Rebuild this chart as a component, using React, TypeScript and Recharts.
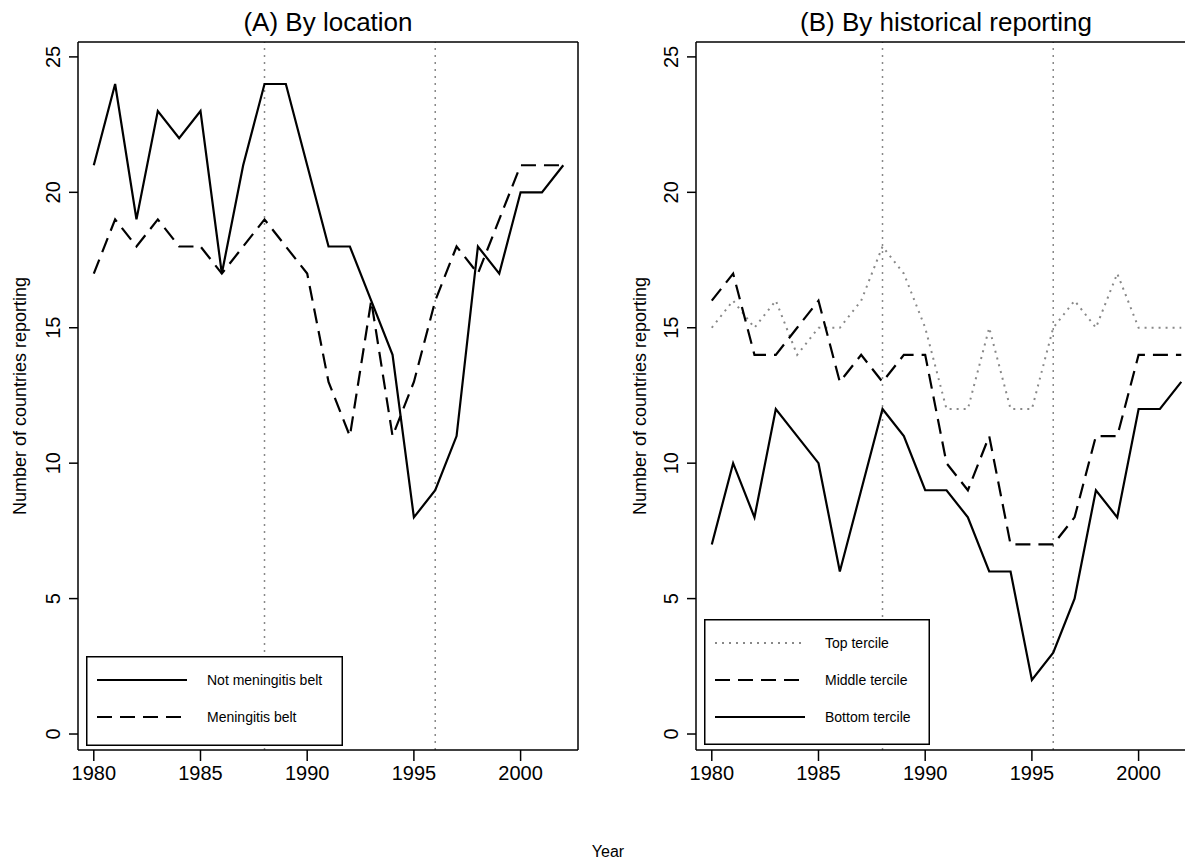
import React from 'react';
import { LineChart, Line, XAxis, YAxis, ReferenceLine, Legend } from 'recharts';

const years = [1980, 1981, 1982, 1983, 1984, 1985, 1986, 1987, 1988, 1989, 1990, 1991, 1992, 1993, 1994, 1995, 1996, 1997, 1998, 1999, 2000, 2001, 2002];
const notBelt = [21, 24, 19, 23, 22, 23, 17, 21, 24, 24, 21, 18, 18, 16, 14, 8, 9, 11, 18, 17, 20, 20, 21];
const belt = [17, 19, 18, 19, 18, 18, 17, 18, 19, 18, 17, 13, 11, 16, 11, 13, 16, 18, 17, 19, 21, 21, 21];
const topTercile = [15, 16, 15, 16, 14, 15, 15, 16, 18, 17, 15, 12, 12, 15, 12, 12, 15, 16, 15, 17, 15, 15, 15];
const middleTercile = [16, 17, 14, 14, 15, 16, 13, 14, 13, 14, 14, 10, 9, 11, 7, 7, 7, 8, 11, 11, 14, 14, 14];
const bottomTercile = [7, 10, 8, 12, 11, 10, 6, 9, 12, 11, 9, 9, 8, 6, 6, 2, 3, 5, 9, 8, 12, 12, 13];

const xTicks = [1980, 1985, 1990, 1995, 2000];
const yTicks = [0, 5, 10, 15, 20, 25];
const markerYears = [1988, 1996];

const FONT = '"Liberation Sans", Arial, Helvetica, sans-serif';
const X_DOMAIN: [number, number] = [1979.26, 2002.69];
const Y_DOMAIN: [number, number] = [-0.59, 25.55];

const DASH = '15 8';
const DOT = '2 5';

const dataA = years.map((y, i) => ({ year: y, notBelt: notBelt[i], belt: belt[i] }));
const dataB = years.map((y, i) => ({ year: y, top: topTercile[i], middle: middleTercile[i], bottom: bottomTercile[i] }));

type Item = { name: string; dash?: string; color: string; width: number };

const seriesA: (Item & { key: string })[] = [
  { key: 'notBelt', name: 'Not meningitis belt', color: '#000', width: 2.2 },
  { key: 'belt', name: 'Meningitis belt', color: '#000', width: 2.2, dash: DASH },
];
const seriesB: (Item & { key: string })[] = [
  { key: 'top', name: 'Top tercile', color: '#888', width: 2, dash: DOT },
  { key: 'middle', name: 'Middle tercile', color: '#000', width: 2.2, dash: DASH },
  { key: 'bottom', name: 'Bottom tercile', color: '#000', width: 2.2 },
];

const YTick = (props: any) => {
  const { x, y, payload } = props;
  return (
    <text x={x} y={y} transform={`rotate(-90 ${x} ${y})`} textAnchor="middle" fontSize={20} fill="#000" fontFamily={FONT}>
      {payload.value}
    </text>
  );
};

const makeLegend = (items: Item[], w: number, h: number, rowGap: number, firstRow: number) => () => (
  <svg width={w} height={h} style={{ display: 'block' }}>
    <rect x={0.75} y={0.75} width={w - 1.5} height={h - 1.5} fill="#fff" stroke="#000" strokeWidth={1.5} />
    {items.map((it, i) => {
      const cy = firstRow + i * rowGap;
      return (
        <g key={it.name}>
          <line x1={11} x2={101} y1={cy} y2={cy} stroke={it.color} strokeWidth={it.width} strokeDasharray={it.dash} />
          <text x={121} y={cy} dominantBaseline="central" fontSize={14} fontFamily={FONT} fill="#000">
            {it.name}
          </text>
        </g>
      );
    })}
  </svg>
);

const chartMargin = { top: 41, right: 21, left: 8, bottom: 53 };

function Panel({ data, series, legend, legendPos }: any) {
  return (
    <LineChart width={600} height={863} data={data} margin={chartMargin}>
      <XAxis
        dataKey="year"
        type="number"
        domain={X_DOMAIN}
        ticks={xTicks}
        allowDataOverflow
        height={60}
        axisLine={{ stroke: '#000', strokeWidth: 1.5 }}
        tickLine={{ stroke: '#000', strokeWidth: 1.5 }}
        tickSize={11}
        tickMargin={5}
        tick={{ fontSize: 20, fill: '#000', fontFamily: FONT }}
      />
      <XAxis
        xAxisId="top"
        orientation="top"
        dataKey="year"
        type="number"
        domain={X_DOMAIN}
        allowDataOverflow
        height={1}
        tick={false}
        tickLine={false}
        axisLine={{ stroke: '#000', strokeWidth: 1.5 }}
      />
      <YAxis
        type="number"
        domain={Y_DOMAIN}
        ticks={yTicks}
        allowDataOverflow
        width={70}
        axisLine={{ stroke: '#000', strokeWidth: 1.5 }}
        tickLine={{ stroke: '#000', strokeWidth: 1.5 }}
        tickSize={9}
        tickMargin={9}
        tick={<YTick />}
      />
      <YAxis
        yAxisId="right"
        orientation="right"
        type="number"
        domain={Y_DOMAIN}
        allowDataOverflow
        width={1}
        tick={false}
        tickLine={false}
        axisLine={{ stroke: '#000', strokeWidth: 1.5 }}
      />
      {markerYears.map((m) => (
        <ReferenceLine key={m} x={m} stroke="#888" strokeWidth={1.5} strokeDasharray={DOT} />
      ))}
      {series.map((s: any) => (
        <Line
          key={s.key}
          dataKey={s.key}
          name={s.name}
          type="linear"
          stroke={s.color}
          strokeWidth={s.width}
          strokeDasharray={s.dash}
          dot={false}
          activeDot={false}
          isAnimationActive={false}
        />
      ))}
      <Legend
        layout="horizontal"
        verticalAlign="middle"
        align="center"
        content={legend}
        wrapperStyle={{ left: legendPos.left, top: legendPos.top, width: legendPos.width, height: legendPos.height }}
      />
    </LineChart>
  );
}

export default function App() {
  const legA = { left: 86, top: 656, width: 257, height: 90 };
  const legB = { left: 704 - 618, top: 619, width: 226, height: 126 };
  return (
    <div style={{ position: 'absolute', left: 0, top: 0, width: 1185, height: 863, overflow: 'hidden', background: '#fff', fontFamily: FONT }}>
      <div style={{ position: 'absolute', left: 0, top: 0 }}>
        <Panel data={dataA} series={seriesA} legend={makeLegend(seriesA, legA.width, legA.height, 37, 24)} legendPos={legA} />
      </div>
      <div style={{ position: 'absolute', left: 618, top: 0 }}>
        <Panel data={dataB} series={seriesB} legend={makeLegend(seriesB, legB.width, legB.height, 37, 24)} legendPos={legB} />
      </div>
      <svg width={1185} height={863} style={{ position: 'absolute', left: 0, top: 0, pointerEvents: 'none' }}>
        <text x={328} y={31} textAnchor="middle" fontSize={26} fontFamily={FONT} fill="#000">(A) By location</text>
        <text x={946} y={31} textAnchor="middle" fontSize={26} fontFamily={FONT} fill="#000">(B) By historical reporting</text>
        <text x={20} y={396} transform="rotate(-90 20 396)" textAnchor="middle" dominantBaseline="central" fontSize={18} fontFamily={FONT} fill="#000">Number of countries reporting</text>
        <text x={640} y={396} transform="rotate(-90 640 396)" textAnchor="middle" dominantBaseline="central" fontSize={18} fontFamily={FONT} fill="#000">Number of countries reporting</text>
        <text x={608} y={857} textAnchor="middle" fontSize={16} fontFamily={FONT} fill="#000">Year</text>
      </svg>
    </div>
  );
}
